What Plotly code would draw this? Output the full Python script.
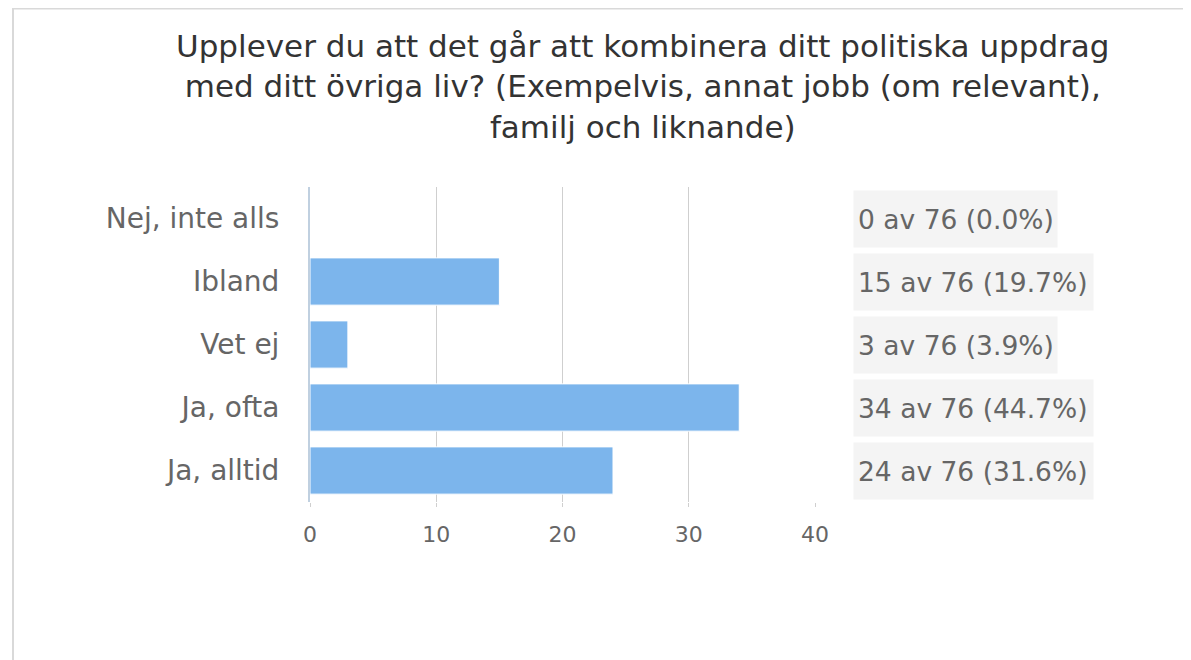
import plotly.graph_objects as go

categories = ["Nej, inte alls", "Ibland", "Vet ej", "Ja, ofta", "Ja, alltid"]
counts = [0, 15, 3, 34, 24]
total = 76
x_ticks = [0, 10, 20, 30, 40]

title = ("Upplever du att det går att kombinera ditt politiska uppdrag<br>"
         "med ditt övriga liv? (Exempelvis, annat jobb (om relevant),<br>"
         "familj och liknande)")

font = "DejaVu Sans"

# plot area in px (page has an 8px body margin, so everything is shifted by 8)
L, R, T, B = 302, 384, 179, 166
W, H = 1191, 660
pw, ph = W - L - R, H - T - B

fig = go.Figure(go.Bar(
    x=counts,
    y=categories,
    orientation="h",
    marker=dict(color="#7cb5ec", line=dict(color="white", width=1)),
    hoverinfo="skip",
))

# title as annotation (multi-line anchoring is easier)
fig.add_annotation(
    x=(635 - L) / pw, xref="paper", xanchor="center",
    y=1 + (T - 18) / ph, yref="paper", yanchor="top",
    text=title, showarrow=False, align="center",
    font=dict(family=font, size=31, color="#333333"),
)

# count boxes on the right
for cat, n in zip(categories, counts):
    txt = f"{n} av {total} ({100 * n / total:.1f}%)"
    fig.add_annotation(
        x=(845 - L) / pw, xref="paper", xanchor="left",
        y=cat, yref="y", yanchor="middle",
        text=txt, showarrow=False, align="left",
        width=195 if n < 10 else 231, height=48,
        bgcolor="#f4f4f4", borderpad=4,
        font=dict(family=font, size=26.5, color="#666666"),
    )

# frame lines (left and top)
fig.add_shape(type="line", xref="paper", yref="paper",
              x0=(5 - L) / pw, x1=(5 - L) / pw, y0=-B / ph, y1=1 + T / ph,
              line=dict(color="#d9d9d9", width=2))
fig.add_shape(type="line", xref="paper", yref="paper",
              x0=(5 - L) / pw, x1=(W - L) / pw, y0=1 + (T - 0.5) / ph, y1=1 + (T - 0.5) / ph,
              line=dict(color="#d9d9d9", width=2))

fig.update_layout(
    width=W, height=H,
    margin=dict(l=L, r=R, t=T, b=B),
    paper_bgcolor="white", plot_bgcolor="white",
    bargap=0.25,
    showlegend=False,
    xaxis=dict(range=[0, 40], tickvals=x_ticks, showgrid=True, gridcolor="#cfcfcf",
               gridwidth=1, zeroline=False, showline=False,
               ticks="outside", ticklen=4, tickcolor="#cfcfcf",
               tickfont=dict(family=font, size=22, color="#666666"),
               ticklabelstandoff=9, fixedrange=True),
    yaxis=dict(autorange="reversed", showgrid=False, zeroline=False,
               showline=True, linecolor="#c0d0e0", linewidth=2,
               tickfont=dict(family=font, size=28, color="#666666"),
               ticklabelstandoff=23, fixedrange=True),
)

fig.write_html("out.html")
